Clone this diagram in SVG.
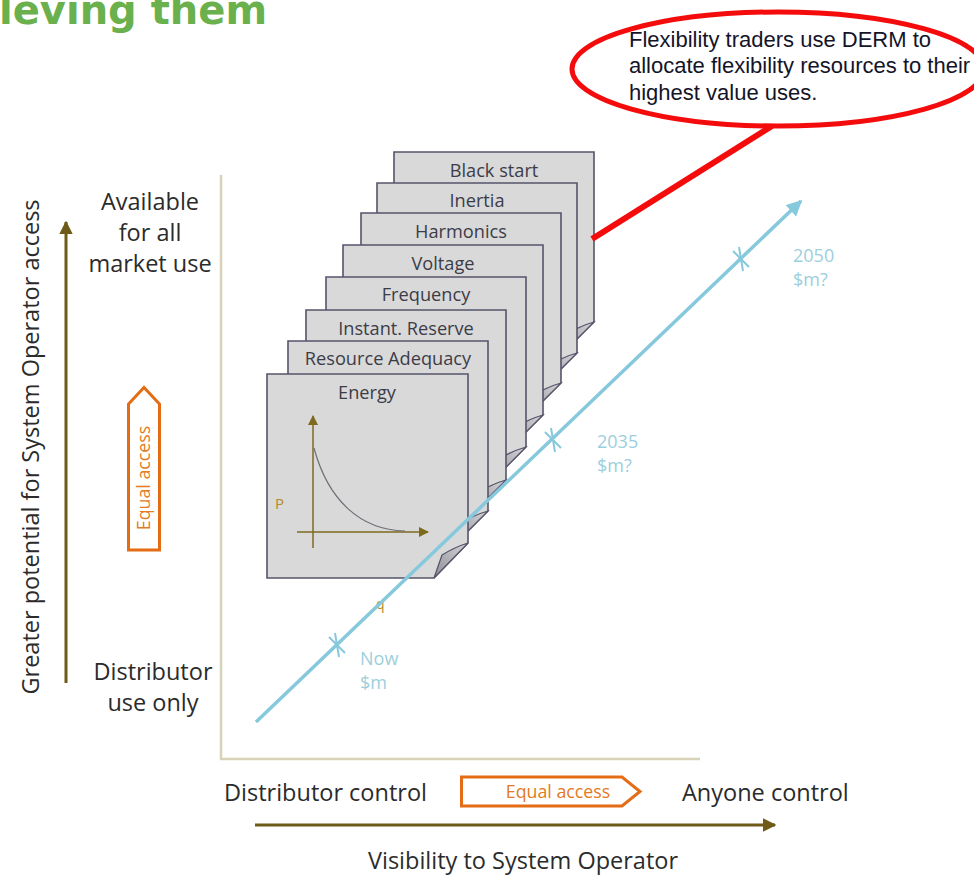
<svg xmlns="http://www.w3.org/2000/svg" width="974" height="876" viewBox="0 0 974 876">
  <defs>
    <style>
      .ui { font-family: "Open Sans", "Noto Sans", "DejaVu Sans", sans-serif; }
      .axis-text { font-size: 23.5px; fill: #2b2b2b; }
      .card { fill: #d9d9d9; stroke: #55546a; stroke-width: 1.6; }
      .fold { fill: url(#foldGrad); stroke: #55546a; stroke-width: 1.2; }
      .card-label { font-size: 18.2px; fill: #3c3c48; text-anchor: middle; }
      .timeline-label { font-size: 18px; fill: #9ccfdc; }
      .orange-box { fill: #ffffff; stroke: #e46c14; stroke-width: 3; }
      .orange-text { font-size: 17.8px; fill: #e47a22; text-anchor: middle; }
      .brown { stroke: #6e5b17; stroke-width: 3; fill: none; }
      .mini-axis { stroke: #7d6a1c; stroke-width: 1.5; fill: none; }
    </style>
    <linearGradient id="foldGrad" x1="0" y1="1" x2="1" y2="0">
      <stop offset="0" stop-color="#8e8e96"/>
      <stop offset="1" stop-color="#d4d4d8"/>
    </linearGradient>
    <marker id="brownHead" viewBox="0 0 10 10" refX="9" refY="5" markerWidth="4.5" markerHeight="4.5" orient="auto" markerUnits="strokeWidth">
      <path d="M0,0 L10,5 L0,10 z" fill="#6e5b17"/>
    </marker>
    <marker id="blueHead" viewBox="0 0 10 10" refX="9" refY="5" markerWidth="4.5" markerHeight="4.5" orient="auto" markerUnits="strokeWidth">
      <path d="M0,0 L10,5 L0,10 z" fill="#86c8dc"/>
    </marker>
    <marker id="miniHead" viewBox="0 0 10 10" refX="9" refY="5" markerWidth="7" markerHeight="7" orient="auto" markerUnits="strokeWidth">
      <path d="M0,0 L10,5 L0,10 z" fill="#7d6a1c"/>
    </marker>
  </defs>

  <rect width="974" height="876" fill="#ffffff"/>

  <!-- slide heading, clipped at the top edge -->
  <text x="-1" y="24" font-family="'DejaVu Sans', Verdana, sans-serif" font-weight="bold" font-size="40" fill="#6ab04c">leving them</text>

  <!-- chart frame -->
  <path d="M221,175 V759 H700" fill="none" stroke="#d8d3b8" stroke-width="2.5"/>

  <!-- vertical axis -->
  <g id="y-axis">
    <line class="brown" x1="66" y1="683" x2="66" y2="222" marker-end="url(#brownHead)"/>
    <text class="ui axis-text" transform="translate(39,447) rotate(-90)" text-anchor="middle" font-size="24.5">Greater potential for System Operator access</text>
    <text class="ui axis-text" text-anchor="middle" x="150" y="210">Available</text>
    <text class="ui axis-text" text-anchor="middle" x="150" y="241">for all</text>
    <text class="ui axis-text" text-anchor="middle" x="150" y="272">market use</text>
    <text class="ui axis-text" text-anchor="middle" x="153" y="680">Distributor</text>
    <text class="ui axis-text" text-anchor="middle" x="153" y="711">use only</text>
  </g>

  <g id="equal-access-vertical">
    <path class="orange-box" d="M128.5,550 V404 L144,387.5 L159.5,404 V550 Z"/>
    <text class="ui orange-text" transform="translate(150,478) rotate(-90)">Equal access</text>
  </g>

  <!-- horizontal axis -->
  <g id="x-axis">
    <text class="ui axis-text" x="224" y="801">Distributor control</text>
    <text class="ui axis-text" x="682" y="801">Anyone control</text>
    <line class="brown" x1="255" y1="825" x2="775" y2="825" marker-end="url(#brownHead)"/>
    <text class="ui axis-text" text-anchor="middle" x="523" y="869">Visibility to System Operator</text>
  </g>

  <g id="equal-access-horizontal">
    <path class="orange-box" d="M461.5,777 H622 L640,791.5 L622,806 H461.5 Z"/>
    <text class="ui orange-text" x="558" y="797.5">Equal access</text>
  </g>

  <!-- stacked service cards, back to front -->
  <g id="card-black-start">
    <path class="card" d="M394,152 H594 V322 L559,357 H394 Z"/>
    <path class="fold" d="M559,357 L567,334 Q580,326 594,322 Z"/>
    <text class="ui card-label" x="494" y="177">Black start</text>
  </g>
  <g id="card-inertia">
    <path class="card" d="M377,183 H577 V353 L542,388 H377 Z"/>
    <path class="fold" d="M542,388 L550,365 Q563,357 577,353 Z"/>
    <text class="ui card-label" x="477" y="207">Inertia</text>
  </g>
  <g id="card-harmonics">
    <path class="card" d="M361,213 H561 V383 L526,418 H361 Z"/>
    <path class="fold" d="M526,418 L534,395 Q547,387 561,383 Z"/>
    <text class="ui card-label" x="461" y="238">Harmonics</text>
  </g>
  <g id="card-voltage">
    <path class="card" d="M343,245 H543 V415 L508,450 H343 Z"/>
    <path class="fold" d="M508,450 L516,427 Q529,419 543,415 Z"/>
    <text class="ui card-label" x="443" y="270">Voltage</text>
  </g>
  <g id="card-frequency">
    <path class="card" d="M326,277 H526 V447 L491,482 H326 Z"/>
    <path class="fold" d="M491,482 L499,459 Q512,451 526,447 Z"/>
    <text class="ui card-label" x="426" y="301">Frequency</text>
  </g>
  <g id="card-instant-reserve">
    <path class="card" d="M306,310 H506 V480 L471,515 H306 Z"/>
    <path class="fold" d="M471,515 L479,492 Q492,484 506,480 Z"/>
    <text class="ui card-label" x="406" y="335">Instant. Reserve</text>
  </g>
  <g id="card-resource-adequacy">
    <path class="card" d="M288,341 H488 V511 L453,546 H288 Z"/>
    <path class="fold" d="M453,546 L461,523 Q474,515 488,511 Z"/>
    <text class="ui card-label" x="388" y="365">Resource Adequacy</text>
  </g>
  <g id="card-energy">
    <path class="card" d="M267,374 H468 V543 L434,578 H267 Z"/>
    <path class="fold" d="M434,578 L442,555 Q455,547 468,543 Z"/>
    <text class="ui card-label" x="367" y="399">Energy</text>
    <!-- price curve sketch -->
    <line class="mini-axis" x1="313" y1="548" x2="313" y2="416" marker-end="url(#miniHead)"/>
    <line class="mini-axis" x1="297" y1="532" x2="428" y2="532" marker-end="url(#miniHead)"/>
    <path d="M314,448 C328,500 360,530 405,531" fill="none" stroke="#6f6f78" stroke-width="1.2"/>
    <text class="ui" x="275" y="509" font-size="15" fill="#b58a2a">P</text>
  </g>
  <text class="ui" x="376" y="609" font-size="14" fill="#b58a2a">q</text>

  <!-- timeline connector -->
  <g id="connectors">
    <line x1="256" y1="722" x2="801" y2="201" stroke="#86c8dc" stroke-width="3.5" marker-end="url(#blueHead)"/>
    <g stroke="#86c8dc" stroke-width="2" fill="none">
      <path d="M329,637 L345,653 M335,633 L339,657"/>
      <path d="M545,432 L561,448 M551,428 L555,452"/>
      <path d="M733,251 L749,267 M739,247 L743,271"/>
    </g>
    <!-- callout pointer -->
    <line x1="592" y1="239" x2="772" y2="126" stroke="#f40c0c" stroke-width="6"/>
  </g>

  <g id="timeline-labels">
    <text class="ui timeline-label" x="360" y="665">Now</text>
    <text class="ui timeline-label" x="360" y="689">$m</text>
    <text class="ui timeline-label" x="597" y="448">2035</text>
    <text class="ui timeline-label" x="597" y="472">$m?</text>
    <text class="ui timeline-label" x="793" y="262">2050</text>
    <text class="ui timeline-label" x="793" y="286">$m?</text>
  </g>

  <!-- callout bubble -->
  <g id="callout">
    <ellipse cx="778" cy="69" rx="206" ry="57" fill="#ffffff" stroke="#f40c0c" stroke-width="5"/>
    <g font-family="'Liberation Sans', Arial, sans-serif" font-size="22" fill="#141428">
      <text x="629" y="47">Flexibility traders use DERM to</text>
      <text x="629" y="73">allocate flexibility resources to their</text>
      <text x="629" y="100">highest value uses.</text>
    </g>
  </g>
</svg>
